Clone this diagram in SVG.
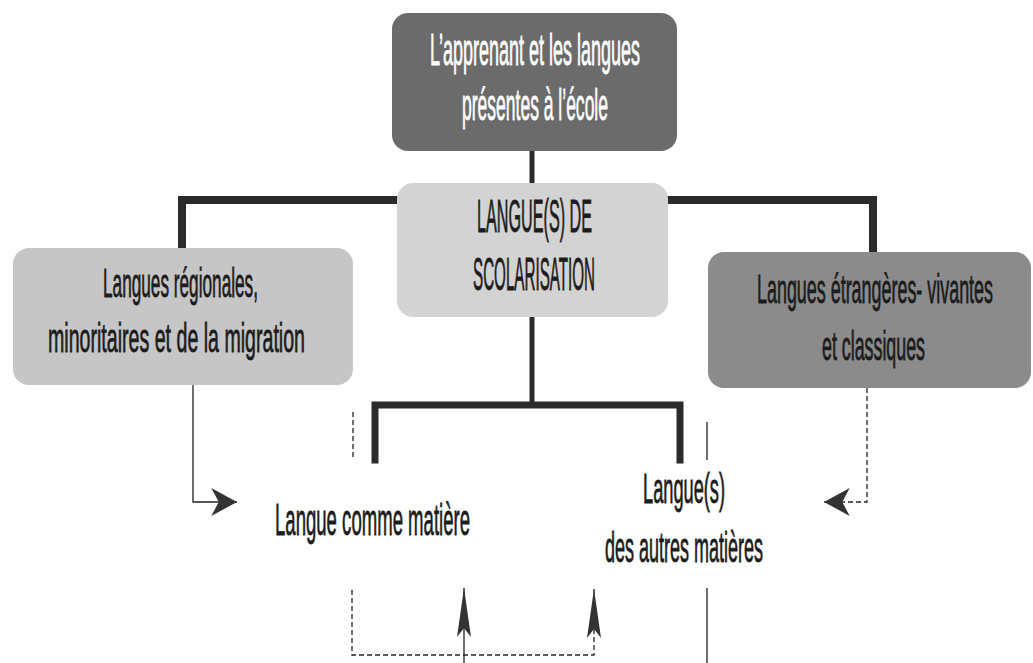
<svg xmlns="http://www.w3.org/2000/svg" width="1033" height="663" viewBox="0 0 1033 663">
<style>
.t{font-family:"Liberation Sans","Open Sans",sans-serif;text-anchor:middle;fill:#1c1c1c;stroke:#1c1c1c;stroke-width:0.8}
.w{fill:#ffffff;stroke:#ffffff}
.thick{stroke:#2b2b2b;fill:none;stroke-linecap:square}
.thin{stroke:#222;stroke-width:1.3;fill:none}
.dash{stroke:#222;stroke-width:1.3;fill:none;stroke-dasharray:5 3}
</style>
<defs>
<marker id="ah" markerUnits="userSpaceOnUse" markerWidth="30" markerHeight="30" viewBox="-26 -14 28 28" refX="0" refY="0" orient="auto">
<path d="M0,0 L-24,-13 L-17,0 L-24,13 Z" fill="#333"/>
</marker>
<marker id="au" markerUnits="userSpaceOnUse" markerWidth="52" markerHeight="18" viewBox="-50 -9 52 18" refX="0" refY="0" orient="auto">
<path d="M0,0 L-49,-7 L-40,0 L-49,7 Z" fill="#333"/>
</marker>
</defs>
<g id="connectors">
<line class="thick" stroke-width="5" x1="532" y1="151" x2="532" y2="184"/>
<polyline class="thick" stroke-width="8" points="182,248 182,200 873,200 873,252"/>
<line class="thick" stroke-width="5" x1="532" y1="317" x2="532" y2="405"/>
<polyline class="thick" stroke-width="7" points="375,460 375,405 680,405 680,460"/>
<polyline class="thin" points="193,385 193,502 237,502" marker-end="url(#ah)"/>
<polyline class="dash" points="867,388 867,502 824,502" marker-end="url(#ah)"/>
<line class="dash" x1="353" y1="412" x2="353" y2="460"/>
<line class="thin" x1="707" y1="422" x2="707" y2="460"/>
<line class="thin" x1="707" y1="588" x2="707" y2="663"/>
<polyline class="dash" points="352,590 352,655 594,655 594,589" marker-end="url(#au)"/>
<line class="thin" x1="464" y1="663" x2="464" y2="588" marker-end="url(#au)"/>
</g>
<g id="top">
<rect x="392" y="13" width="285" height="138" rx="16" fill="#6b6b6b"/>
<text class="t w" transform="translate(535,65) scale(0.45,1)" font-size="44" textLength="466.7" lengthAdjust="spacingAndGlyphs">L’apprenant et les langues</text>
<text class="t w" transform="translate(535,120) scale(0.45,1)" font-size="44" textLength="324.4" lengthAdjust="spacingAndGlyphs">présentes à l’école</text>
</g>
<g id="center">
<rect x="397" y="183" width="271" height="134" rx="16" fill="#d3d3d3"/>
<text class="t" transform="translate(534.5,232) scale(0.45,1)" font-size="46" textLength="255.6" lengthAdjust="spacingAndGlyphs">LANGUE(S) DE</text>
<text class="t" transform="translate(534,290) scale(0.45,1)" font-size="46" textLength="271.1" lengthAdjust="spacingAndGlyphs">SCOLARISATION</text>
</g>
<g id="left">
<rect x="13" y="248" width="340" height="137" rx="16" fill="#c6c6c6"/>
<text class="t" transform="translate(180.5,297) scale(0.45,1)" font-size="40" textLength="344.4" lengthAdjust="spacingAndGlyphs">Langues régionales,</text>
<text class="t" transform="translate(176.5,352) scale(0.45,1)" font-size="40" textLength="571.1" lengthAdjust="spacingAndGlyphs">minoritaires et de la migration</text>
</g>
<g id="right">
<rect x="708" y="252" width="323" height="136" rx="16" fill="#8b8b8b"/>
<text class="t" transform="translate(875,303) scale(0.45,1)" font-size="40" textLength="524.4" lengthAdjust="spacingAndGlyphs">Langues étrangères- vivantes</text>
<text class="t" transform="translate(873.5,360) scale(0.45,1)" font-size="40" textLength="228.9" lengthAdjust="spacingAndGlyphs">et classiques</text>
</g>
<g id="matiere">
<text class="t" transform="translate(372.5,535) scale(0.45,1)" font-size="45" textLength="433.3" lengthAdjust="spacingAndGlyphs">Langue comme matière</text>
</g>
<g id="autres">
<text class="t" transform="translate(684,503) scale(0.45,1)" font-size="42" textLength="182.2" lengthAdjust="spacingAndGlyphs">Langue(s)</text>
<text class="t" transform="translate(684,562) scale(0.45,1)" font-size="42" textLength="351.1" lengthAdjust="spacingAndGlyphs">des autres matières</text>
</g>
</svg>
